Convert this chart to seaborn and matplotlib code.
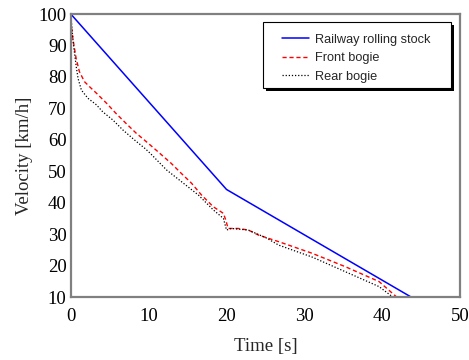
import matplotlib
matplotlib.use("Agg")
import matplotlib.pyplot as plt
import seaborn as sns
from matplotlib.patches import Rectangle
from matplotlib.ticker import MultipleLocator

# ---------------------------------------------------------------------------
# Data
# ---------------------------------------------------------------------------
body_t = [0.0, 20.0, 43.7]
body_v = [100.0, 44.2, 10.0]

front_t = [0.0, 0.04, 0.26, 0.47, 0.68, 1.1, 1.75, 2.4, 3.3, 4.6, 5.8, 7.1, 8.4,
           9.7, 11.2, 12.9, 14.2, 15.5, 16.8, 18.3, 19.6, 19.9, 20.2, 21.5, 22.8,
           24.1, 26.7, 31.0, 35.3, 39.6, 41.8]
front_v = [100.0, 96.5, 92.3, 89.1, 85.9, 81.7, 78.5, 76.9, 74.8, 71.6, 68.4, 65.2,
           62.1, 59.4, 56.2, 52.5, 49.3, 46.2, 42.4, 38.7, 36.6, 34.5, 31.8, 31.8,
           31.3, 29.7, 27.6, 23.9, 19.6, 14.9, 10.1]

rear_t = [0.0, 0.3, 0.7, 0.93, 1.36, 2.2, 3.3, 4.1, 5.4, 6.7, 8.2, 9.5, 10.2, 12.3,
          14.2, 16.4, 18.3, 19.6, 20.0, 20.6, 22.8, 25.1, 26.7, 31.0, 35.3, 39.6, 41.3]
rear_v = [100.0, 91.0, 83.2, 79.5, 75.8, 73.2, 71.1, 68.9, 66.3, 63.1, 59.9, 57.3,
          55.7, 50.4, 46.7, 42.4, 37.7, 35.0, 31.3, 31.8, 31.3, 28.8, 26.5, 22.7,
          18.0, 13.3, 10.1]

SERIES = ["Railway rolling stock", "Front bogie", "Rear bogie"]

sns.set_style("white")
plt.rcParams["font.family"] = ["Liberation Serif", "DejaVu Serif"]

fig = plt.figure(figsize=(4.69, 3.6), dpi=100)
ax = fig.add_axes([0.151, 0.175, 0.83, 0.786])

sns.lineplot(x=body_t, y=body_v, ax=ax, color="#0000ff", lw=1.1,
             label=SERIES[0], sort=False)
sns.lineplot(x=front_t, y=front_v, ax=ax, color="#ff0000", lw=1.0,
             linestyle=(0, (3, 2)), label=SERIES[1], sort=False)
sns.lineplot(x=rear_t, y=rear_v, ax=ax, color="black", lw=0.9,
             linestyle=(0, (1, 1.5)), label=SERIES[2], sort=False)

ax.set_xlim(0, 50)
ax.set_ylim(10, 100)
ax.xaxis.set_major_locator(MultipleLocator(10))
ax.xaxis.set_minor_locator(MultipleLocator(5))
ax.yaxis.set_major_locator(MultipleLocator(10))
ax.yaxis.set_minor_locator(MultipleLocator(5))

for sp in ax.spines.values():
    sp.set_color("#808080")
    sp.set_linewidth(1.6)
ax.tick_params(which="both", direction="in", color="#606060", width=1,
               labelsize=13.5, labelcolor="black", pad=3)
ax.tick_params(which="major", length=5)
ax.tick_params(which="minor", length=3)
ax.tick_params(axis="x", pad=8)

ax.set_xlabel("Time [s]", fontsize=13.5, labelpad=9)
ax.set_ylabel("Velocity [km/h]", fontsize=13.5, labelpad=4)

# legend box with a hard black drop shadow (Origin style)
box = dict(x=0.494, y=0.740, w=0.482, h=0.233)
ax.add_patch(Rectangle((box["x"] + 0.0077, box["y"] - 0.0106), box["w"], box["h"],
                       transform=ax.transAxes, facecolor="black", edgecolor="none",
                       zorder=5))
ax.add_patch(Rectangle((box["x"], box["y"]), box["w"], box["h"],
                       transform=ax.transAxes, facecolor="white", edgecolor="black",
                       lw=0.8, zorder=6))

leg = ax.legend(loc="upper left", bbox_to_anchor=(0.5416, 0.930),
                prop={"family": "Liberation Sans", "size": 9.2},
                frameon=False, handlelength=2.16, handletextpad=0.45,
                borderpad=0, borderaxespad=0, labelspacing=0.5)
leg.set_zorder(7)

fig.savefig("out.png", dpi=100)
